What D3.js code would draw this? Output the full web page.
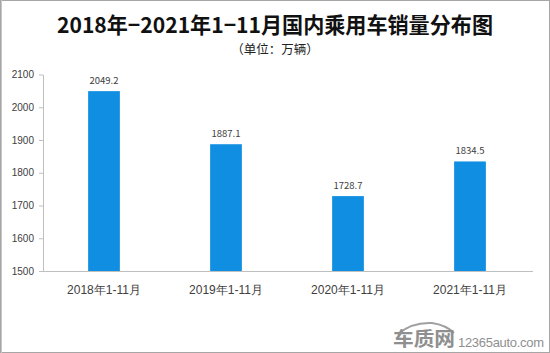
<!doctype html>
<html lang="zh">
<head>
<meta charset="utf-8">
<title>2018-2021年1-11月国内乘用车销量分布图</title>
<script src="https://cdn.jsdelivr.net/npm/d3@7"></script>
<style>
  body { margin: 0; background: #fff; }
  svg { display: block; font-family: "Noto Sans CJK SC", "Noto Sans", sans-serif; }
  .axis path, .axis line { stroke: #bfbfbf; }
  .axis text { fill: #404040; }
</style>
</head>
<body>
<svg></svg>
<script>
  var width = 550;
  var height = 353;

  var categories = ['2018年1-11月', '2019年1-11月', '2020年1-11月', '2021年1-11月'];
  var sales = [2049.2, 1887.1, 1728.7, 1834.5];
  var yTicks = [1500, 1600, 1700, 1800, 1900, 2000, 2100];

  var margin = { left: 43, right: 19, top: 74.5, bottom: 82 };

  var svg = d3.select('svg').attr('width', width).attr('height', height);

  // frame
  svg.append('rect')
    .attr('x', 0.5).attr('y', 0.5)
    .attr('width', width - 1).attr('height', height - 1)
    .attr('fill', 'none').attr('stroke', '#a6a6a6');
  svg.append('line')
    .attr('x1', 1.5).attr('x2', 1.5).attr('y1', 0).attr('y2', height)
    .attr('stroke', '#c8c8c8');

  var xScale = d3.scaleBand()
    .domain(categories)
    .range([margin.left, width - margin.right])
    .paddingInner(0.74)
    .paddingOuter(0.37);
  var yScale = d3.scaleLinear()
    .domain([1500, 2100])
    .range([height - margin.bottom, margin.top]);

  svg.append('text')
    .attr('x', 275).attr('y', 33)
    .attr('text-anchor', 'middle')
    .attr('font-size', '21.5px')
    .attr('font-weight', 'bold')
    .attr('fill', '#111')
    .attr('textLength', 436)
    .attr('lengthAdjust', 'spacingAndGlyphs')
    .text('2018年−2021年1−11月国内乘用车销量分布图');

  svg.append('text')
    .attr('x', 275).attr('y', 54)
    .attr('text-anchor', 'middle')
    .attr('font-size', '12.5px')
    .attr('fill', '#222')
    .text('（单位：万辆）');

  var yAxis = svg.append('g')
    .attr('class', 'axis')
    .attr('transform', 'translate(' + margin.left + ',0)')
    .call(d3.axisLeft(yScale).tickValues(yTicks).tickFormat(d3.format('d'))
      .tickSize(4).tickSizeOuter(0).tickPadding(5));
  yAxis.selectAll('text').attr('font-size', '10px');

  svg.selectAll('.bar')
    .data(sales)
    .enter()
    .append('rect')
    .attr('class', 'bar')
    .attr('x', function (d, i) { return xScale(categories[i]); })
    .attr('y', function (d) { return yScale(d); })
    .attr('width', xScale.bandwidth())
    .attr('height', function (d) { return yScale(1500) - yScale(d); })
    .attr('fill', '#0f8ee2');

  svg.selectAll('.val')
    .data(sales)
    .enter()
    .append('text')
    .attr('class', 'val')
    .attr('x', function (d, i) { return xScale(categories[i]) + xScale.bandwidth() / 2; })
    .attr('y', function (d) { return yScale(d) - 7; })
    .attr('text-anchor', 'middle')
    .attr('font-size', '9.5px')
    .attr('fill', '#404040')
    .text(function (d) { return d.toFixed(1); });

  var xAxis = svg.append('g')
    .attr('class', 'axis')
    .attr('transform', 'translate(0,' + (height - margin.bottom) + ')')
    .call(d3.axisBottom(xScale).tickSize(0).tickPadding(14));
  xAxis.select('.domain').attr('d', 'M39,0.5H' + (width - margin.right + 2));
  xAxis.selectAll('text').attr('font-size', '12px');

  // watermark
  var wm = svg.append('g').attr('fill', '#8f8f8f');
  wm.append('path')
    .attr('d', 'M398,334 Q412,322 432,323 Q446,325 454,333')
    .attr('fill', 'none').attr('stroke', '#a0a0a0').attr('stroke-width', 2);
  wm.append('text')
    .attr('x', 393).attr('y', 346)
    .attr('font-size', '19px').attr('font-weight', 'bold')
    .attr('textLength', 62)
    .attr('lengthAdjust', 'spacingAndGlyphs')
    .text('车质网');
  wm.append('text')
    .attr('x', 458).attr('y', 347)
    .attr('font-size', '13px')
    .attr('font-family', 'Liberation Sans, sans-serif')
    .attr('textLength', 86)
    .text('12365auto.com');
</script>
</body>
</html>
